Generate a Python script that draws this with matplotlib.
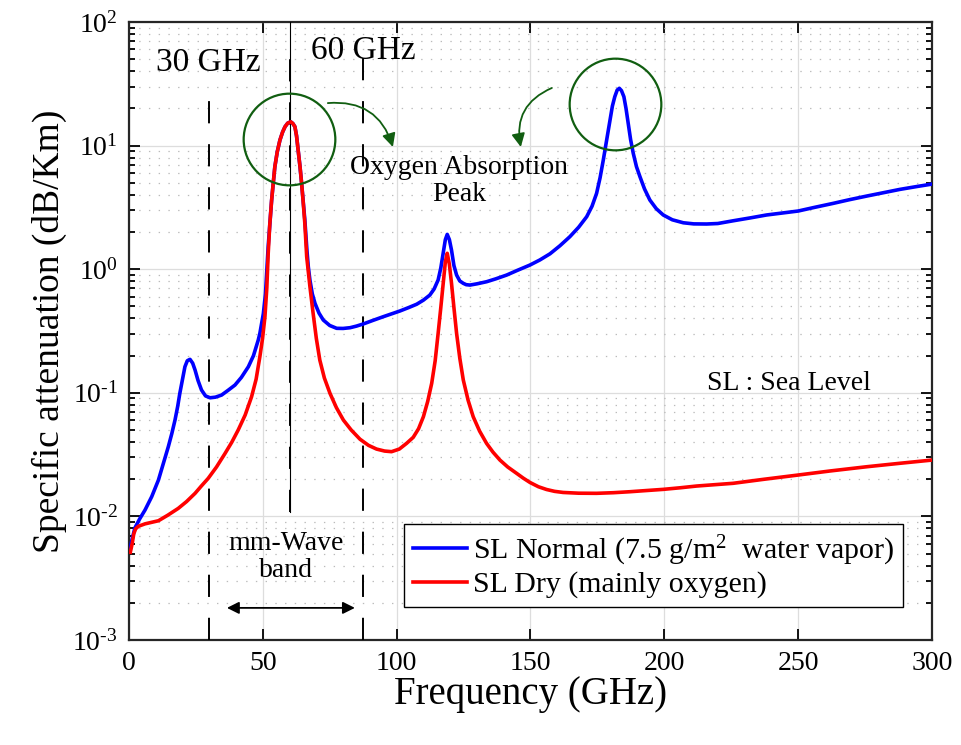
import numpy as np
import matplotlib
matplotlib.use("Agg")
import matplotlib.pyplot as plt
from matplotlib.ticker import LogLocator, FuncFormatter, NullFormatter, MultipleLocator

# Sea-level specific attenuation, values read per GHz (log10 of dB/km)
freq_normal = [0.5, 1.0, 2.2, 4.0, 6.0, 8.5, 11.0, 13.0, 14.7, 16.0, 17.2, 18.2, 19.0,
               20.0, 20.9, 21.8, 22.8, 23.8, 24.7, 25.8, 27.1, 28.6, 30.3, 32.3, 34.6,
               37.0, 39.6, 42.0, 44.6, 46.5, 48.3, 48.9, 50.2, 51.0, 52.0, 52.6, 53.3,
               54.0, 54.5, 55.4, 56.4, 57.4, 58.3, 59.3, 60.4, 61.2, 62.0, 62.6, 63.2,
               63.9, 64.5, 65.1, 65.7, 66.5, 67.0, 67.6, 68.5, 69.5, 71.0, 72.6, 75.0,
               77.6, 80.0, 82.6, 85.0, 87.5, 91.0, 95.0, 98.0, 101.2, 104.5, 107.5, 110.0,
               112.4, 114.0, 115.5, 116.5, 117.4, 118.2, 118.9, 119.7, 120.5, 121.4, 122.4,
               123.6, 124.9, 126.0, 127.4, 130.0, 133.6, 137.0, 141.1, 145.0, 149.8, 153.5,
               157.3, 161.0, 164.7, 168.0, 171.0, 173.0, 174.7, 176.0, 177.2, 178.5, 179.7,
               180.6, 181.5, 182.4, 183.2, 184.0, 184.9, 185.7, 186.5, 187.4, 188.4, 189.6,
               190.9, 192.6, 194.6, 197.0, 199.6, 203.0, 207.1, 211.0, 215.8, 220.0, 225.7,
               232.0, 238.2, 244.0, 250.0, 256.0, 263.1, 269.0, 275.6, 282.0, 288.0, 294.0,
               300.0]
log_normal = [-2.26, -2.20, -2.094, -2.02, -1.948, -1.84, -1.706, -1.56, -1.436, -1.33,
              -1.22, -1.11, -1.004, -0.89, -0.789, -0.74, -0.729, -0.76, -0.816, -0.90,
              -0.977, -1.025, -1.04, -1.035, -1.018, -0.98, -0.937, -0.875, -0.789, -0.70,
              -0.573, -0.519, -0.36, -0.20, 0.18, 0.36, 0.56, 0.72, 0.829, 0.95, 1.045,
              1.11, 1.153, 1.182, 1.193, 1.18, 1.153, 1.08, 0.964, 0.83, 0.695, 0.55, 0.40,
              0.15, 0.02, -0.087, -0.20, -0.276, -0.355, -0.411, -0.455, -0.478, -0.479,
              -0.473, -0.46, -0.443, -0.415, -0.384, -0.362, -0.338, -0.31, -0.283, -0.25,
              -0.209, -0.16, -0.087, 0.01, 0.129, 0.24, 0.282, 0.24, 0.155, 0.03, -0.047,
              -0.095, -0.114, -0.125, -0.128, -0.118, -0.101, -0.078, -0.047, -0.01, 0.034,
              0.075, 0.125, 0.19, 0.263, 0.34, 0.425, 0.51, 0.614, 0.74, 0.883, 1.05, 1.207,
              1.32, 1.396, 1.45, 1.464, 1.445, 1.396, 1.30, 1.18, 1.05, 0.938, 0.83, 0.749,
              0.65, 0.56, 0.49, 0.439, 0.40, 0.376, 0.367, 0.366, 0.37, 0.392, 0.415, 0.439,
              0.455, 0.471, 0.50, 0.533, 0.562, 0.592, 0.62, 0.646, 0.668, 0.689]

freq_dry = [0.5, 1.2, 1.8, 2.5, 3.5, 6.0, 11.0, 14.5, 18.4, 21.5, 24.7, 27.0, 29.6, 32.7,
            35.9, 38.4, 40.8, 43.4, 45.8, 47.5, 48.9, 49.9, 50.8, 51.5, 52.0, 52.6, 53.3,
            54.0, 54.5, 55.4, 56.4, 57.4, 58.3, 59.3, 60.4, 61.2, 62.0, 62.6, 63.2, 63.9,
            64.5, 65.1, 65.7, 66.4, 67.6, 68.8, 70.0, 71.3, 73.0, 75.1, 77.5, 80.1, 83.0,
            86.3, 89.5, 92.5, 95.5, 98.1, 101.0, 103.7, 106.2, 108.2, 110.0, 111.6, 113.1,
            114.4, 115.5, 116.5, 117.4, 118.2, 118.9, 119.7, 120.5, 121.4, 122.4, 123.6,
            124.9, 126.7, 128.6, 131.0, 133.6, 136.0, 138.6, 141.5, 144.8, 147.3, 149.8,
            153.0, 156.0, 159.0, 162.2, 168.0, 174.7, 181.0, 187.2, 193.0, 199.6, 206.0,
            212.1, 225.7, 237.0, 250.0, 262.0, 275.6, 288.0, 300.0]
log_dry = [-2.29, -2.22, -2.14, -2.10, -2.08, -2.06, -2.035, -1.99, -1.935, -1.88, -1.813,
           -1.755, -1.692, -1.60, -1.49, -1.40, -1.301, -1.18, -1.032, -0.89, -0.708, -0.56,
           -0.384, -0.15, 0.12, 0.36, 0.56, 0.72, 0.829, 0.95, 1.045, 1.11, 1.153, 1.182,
           1.193, 1.18, 1.153, 1.08, 0.964, 0.83, 0.695, 0.54, 0.371, 0.101, -0.14, -0.357,
           -0.56, -0.735, -0.88, -1.004, -1.12, -1.22, -1.30, -1.375, -1.425, -1.455, -1.471,
           -1.476, -1.455, -1.409, -1.36, -1.29, -1.193, -1.07, -0.923, -0.74, -0.519, -0.31,
           -0.114, 0.06, 0.129, 0.04, -0.114, -0.31, -0.519, -0.72, -0.896, -1.06, -1.193,
           -1.31, -1.409, -1.48, -1.544, -1.60, -1.651, -1.69, -1.725, -1.76, -1.782,
           -1.797, -1.806, -1.812, -1.813, -1.808, -1.80, -1.791, -1.781, -1.768, -1.754,
           -1.732, -1.70, -1.665, -1.632, -1.598, -1.57, -1.544]

atten_normal = 10.0 ** np.array(log_normal)
atten_dry = 10.0 ** np.array(log_dry)

# band marker lines (GHz): lower end and upper end of each dashed line
band_lines = [30, 60, 87.5]
band_bottoms = [1e-3, 0.0109, 1e-3]
band_tops = [24.3, 59.0, 68.0]

green = "#115e11"

plt.rcParams["font.family"] = ["Liberation Serif", "DejaVu Serif"]
plt.rcParams["mathtext.fontset"] = "custom"
plt.rcParams["mathtext.rm"] = "Liberation Serif"
plt.rcParams["mathtext.it"] = "Liberation Serif:italic"
plt.rcParams["lines.scale_dashes"] = False

fig = plt.figure(figsize=(9.61, 7.45), dpi=100)
ax = fig.add_axes([0.1342, 0.1409, 0.8356, 0.8295])

ax.plot(freq_normal, atten_normal, color="#0000ff", lw=2.6,
        label=r"SL Normal (7.5 g/m$^{2}$  water vapor)", zorder=4)
ax.plot(freq_dry, atten_dry, color="#ff0000", lw=2.6,
        label="SL Dry (mainly oxygen)", zorder=5)

ax.set_yscale("log")
ax.set_xlim(0, 300)
ax.set_ylim(1e-3, 1e2)

# dashed band limits and the 60 GHz centre line
for f, lo, top in zip(band_lines, band_bottoms, band_tops):
    ax.plot([f, f], [lo, top], color="black", lw=1.4, dashes=(16, 15), zorder=3)
ax.plot([60, 60], [0.0109, 1e2], color="black", lw=0.8, zorder=3)

ax.grid(True, which="major", color="#dddddd", lw=0.9, ls="-")
ax.grid(True, which="minor", axis="y", color="#bbbbbb", lw=0.9, ls=(0, (1, 6)))
ax.set_axisbelow(True)


def decade_label(v, pos):
    return r"$10^{\text{%d}}$" % round(np.log10(v))


ax.xaxis.set_major_locator(MultipleLocator(50))
ax.yaxis.set_major_locator(LogLocator(base=10, numticks=10))
ax.yaxis.set_minor_locator(LogLocator(base=10, subs=np.arange(2, 10), numticks=10))
ax.yaxis.set_minor_formatter(NullFormatter())
ax.yaxis.set_major_formatter(FuncFormatter(decade_label))

ax.tick_params(which="both", direction="in", top=True, right=True, labelsize=20, width=1.3)
ax.tick_params(which="major", length=8, pad=8)
ax.tick_params(which="minor", length=4.5)
for sp in ax.spines.values():
    sp.set_linewidth(1.6)
    sp.set_color("#262626")

ax.set_xlabel("Frequency (GHz)", fontsize=28, labelpad=0)
ax.set_ylabel("Specific attenuation (dB/Km)", fontsize=27, labelpad=4)

# peak highlights
ax.plot([59.8], [11.3], "o", ms=66, mfc="none", mec=green, mew=1.6, zorder=6)
ax.plot([181.7], [21.7], "o", ms=66, mfc="none", mec=green, mew=1.6, zorder=6)

ax.annotate("", xy=(98.6, 9.75), xytext=(74.3, 22.1),
            arrowprops=dict(arrowstyle="-|>", color=green, lw=1.3, mutation_scale=20,
                            shrinkA=0, shrinkB=0, connectionstyle="arc3,rad=-0.4"))
ax.annotate("", xy=(146.4, 9.75), xytext=(158.0, 29.3),
            arrowprops=dict(arrowstyle="-|>", color=green, lw=1.3, mutation_scale=20,
                            shrinkA=0, shrinkB=0, connectionstyle="arc3,rad=0.4"))

ax.annotate("", xy=(84.4, 0.00182), xytext=(36.6, 0.00182),
            arrowprops=dict(arrowstyle="<|-|>", color="black", lw=1.3, mutation_scale=18,
                            shrinkA=0, shrinkB=0))

ax.text(29.5, 46.5, "30 GHz", fontsize=24, ha="center", va="center")
ax.text(87.4, 58.2, "60 GHz", fontsize=24, ha="center", va="center")
ax.text(123.3, 5.18, "Oxygen Absorption\nPeak", fontsize=20, ha="center", va="center",
        linespacing=1.15)
ax.text(246.4, 0.12, "SL : Sea Level", fontsize=20, ha="center", va="center")
ax.text(58.5, 0.0047, "mm-Wave\nband", fontsize=20, ha="center", va="center",
        linespacing=1.15)

leg = ax.legend(loc="lower right", bbox_to_anchor=(0.964, 0.053), fontsize=21.5,
                frameon=True, fancybox=False, framealpha=1, edgecolor="black",
                borderaxespad=0, handlelength=1.8, handletextpad=0.2,
                labelspacing=0.12, borderpad=0.3)
leg.get_frame().set_linewidth(1.0)
leg.set_zorder(7)

fig.savefig("out.png", dpi=100)
